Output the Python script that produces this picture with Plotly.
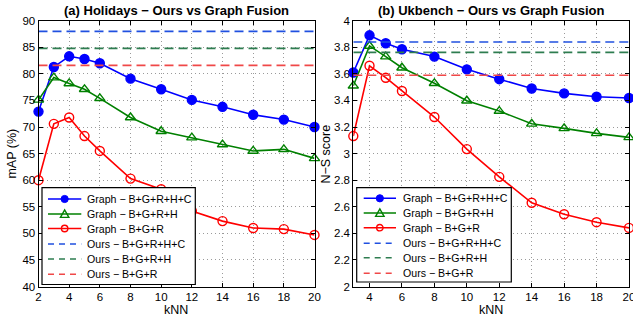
import plotly.graph_objects as go

# ---------------- data ----------------
knn_a = [2, 3, 4, 5, 6, 8, 10, 12, 14, 16, 18, 20]
graph_bgrhc_a = [72.9, 81.3, 83.3, 82.8, 82.0, 79.1, 77.1, 75.1, 73.8, 72.3, 71.4, 70.0]
graph_bgrh_a = [75.1, 79.3, 78.2, 77.1, 75.4, 71.8, 69.2, 68.0, 66.7, 65.5, 65.8, 64.1]
graph_bgr_a = [60.0, 70.6, 71.8, 68.3, 65.5, 60.3, 58.3, 54.2, 52.3, 51.0, 50.8, 49.7]
ours_a = [88.0, 84.8, 81.6]

knn_b = [3, 4, 5, 6, 8, 10, 12, 14, 16, 18, 20]
graph_bgrhc_b = [3.61, 3.89, 3.83, 3.785, 3.73, 3.634, 3.56, 3.49, 3.453, 3.428, 3.418]
graph_bgrh_b = [3.51, 3.81, 3.73, 3.646, 3.529, 3.398, 3.32, 3.224, 3.19, 3.152, 3.122]
graph_bgr_b = [3.132, 3.661, 3.571, 3.471, 3.275, 3.034, 2.825, 2.63, 2.544, 2.484, 2.441]
ours_b = [3.84, 3.762, 3.589]

yticks_a = [40, 45, 50, 55, 60, 65, 70, 75, 80, 85, 90]
yticks_b = [2, 2.2, 2.4, 2.6, 2.8, 3, 3.2, 3.4, 3.6, 3.8, 4]
yticklabels_b = ["2", "2.2", "2.4", "2.6", "2.8", "3", "3.2", "3.4", "3.6", "3.8", "4"]
xticks_a = [2, 4, 6, 8, 10, 12, 14, 16, 18, 20]
xticks_b = [4, 6, 8, 10, 12, 14, 16, 18, 20]

names_graph = ["Graph − B+G+R+H+C", "Graph − B+G+R+H", "Graph − B+G+R"]
names_ours = ["Ours − B+G+R+H+C", "Ours − B+G+R+H", "Ours − B+G+R"]
titles = ["<b>(a) Holidays − Ours vs Graph Fusion</b>", "<b>(b) Ukbench − Ours vs Graph Fusion</b>"]
ylabels = ["mAP (%)", "N−S score"]

line_colors = ["#0000ff", "#008000", "#ff0000"]
dash_colors = ["#2050e0", "#2e7d50", "#f04848"]
symbols = ["circle", "triangle-up-open", "circle-open"]

W, H = 633, 317


def px(x):
    return x / W


def py(y):
    return 1 - y / H


fig = go.Figure()


def add_panel(knn, series, ours, xa, ya):
    for vals, nm, col, sym in zip(series, names_graph, line_colors, symbols):
        fig.add_trace(go.Scatter(
            x=knn, y=vals, name=nm, mode="lines+markers", showlegend=False,
            line=dict(color=col, width=1.6),
            marker=dict(symbol=sym, size=9, color=col, line=dict(color=col, width=1.4)),
            xaxis=xa, yaxis=ya, cliponaxis=False))
    for v, nm, col in zip(ours, names_ours, dash_colors):
        fig.add_trace(go.Scatter(
            x=[knn[0], knn[-1]], y=[v, v], name=nm, mode="lines", showlegend=False,
            line=dict(color=col, width=1.6, dash="9px,5px"),
            xaxis=xa, yaxis=ya))


add_panel(knn_a, [graph_bgrhc_a, graph_bgrh_a, graph_bgr_a], ours_a, "x", "y")
add_panel(knn_b, [graph_bgrhc_b, graph_bgrh_b, graph_bgr_b], ours_b, "x2", "y2")

font = dict(family="Liberation Sans, Arial, sans-serif", size=11, color="black")

axis_common = dict(showline=True, linecolor="black", linewidth=1, mirror="ticks",
                   ticks="inside", ticklen=4, tickcolor="black", automargin=False,
                   showgrid=True, gridcolor="#9a9a9a", griddash="1px,3px", gridwidth=1,
                   zeroline=False, tickfont=dict(size=11.5), ticklabeloverflow="allow")

ytop = py(20.7)
ybot = py(286.5)
plot_a = (38.5, 314.5)
plot_b = (353.3, 629.0)

# ---------------- manual legends (box, samples, text) ----------------
shapes = []
annotations = []


def add_legend(box, rows, sx0, sx1, tx):
    x0, y0, x1, y1 = box
    shapes.append(dict(type="rect", xref="paper", yref="paper",
                       x0=px(x0), x1=px(x1), y0=py(y0), y1=py(y1),
                       line=dict(color="black", width=1.2), fillcolor="white", layer="above"))
    labels = names_graph + names_ours
    cols = line_colors + dash_colors
    for i, (yy, lab, col) in enumerate(zip(rows, labels, cols)):
        dash = "solid" if i < 3 else "6px,5px"
        shapes.append(dict(type="line", xref="paper", yref="paper",
                           x0=px(sx0), x1=px(sx1), y0=py(yy), y1=py(yy),
                           line=dict(color=col, width=1.6, dash=dash), layer="above"))
        mx = (sx0 + sx1) / 2
        r = 3.6
        if i == 0:
            shapes.append(dict(type="circle", xref="paper", yref="paper",
                               x0=px(mx - r), x1=px(mx + r), y0=py(yy + r), y1=py(yy - r),
                               line=dict(color=col, width=1), fillcolor=col, layer="above"))
        elif i == 1:
            t = 4.2
            path = "M {} {} L {} {} L {} {} Z".format(
                px(mx - t), py(yy + t * 0.8), px(mx + t), py(yy + t * 0.8), px(mx), py(yy - t * 0.95))
            shapes.append(dict(type="path", xref="paper", yref="paper", path=path,
                               line=dict(color=col, width=1.4), fillcolor="rgba(0,0,0,0)", layer="above"))
        elif i == 2:
            shapes.append(dict(type="circle", xref="paper", yref="paper",
                               x0=px(mx - 3.2), x1=px(mx + 3.2), y0=py(yy + 3.2), y1=py(yy - 3.2),
                               line=dict(color=col, width=1.4), fillcolor="rgba(0,0,0,0)", layer="above"))
        annotations.append(dict(text=lab, x=px(tx), y=py(yy), xref="paper", yref="paper",
                                showarrow=False, xanchor="left", yanchor="middle",
                                font=dict(size=10.6), bgcolor="rgba(0,0,0,0)"))


add_legend((42, 187.7, 195.3, 284.5), [199, 214, 228.5, 244, 259, 274.3], 48, 81.3, 85.3)
add_legend((356.7, 187.7, 511.3, 282), [198.3, 213, 227.7, 243.3, 257.7, 273.3], 363.7, 396, 400.5)

# titles and axis labels
for (a, b), t in zip([plot_a, plot_b], titles):
    annotations.append(dict(text=t, x=px((a + b) / 2), y=py(10), xref="paper", yref="paper",
                            showarrow=False, font=dict(size=13), xanchor="center", yanchor="middle"))
    annotations.append(dict(text="kNN", x=px((a + b) / 2), y=py(310), xref="paper", yref="paper",
                            showarrow=False, font=dict(size=12.5), xanchor="center", yanchor="middle"))
for xpos, lab in zip([12, 326], ylabels):
    annotations.append(dict(text=lab, x=px(xpos), y=py(153.6), xref="paper", yref="paper",
                            showarrow=False, font=dict(size=12.5), textangle=-90,
                            xanchor="center", yanchor="middle"))

fig.update_layout(
    width=W, height=H, margin=dict(l=0, r=0, t=0, b=0, autoexpand=False),
    paper_bgcolor="white", plot_bgcolor="white", font=font, showlegend=False,
    xaxis=dict(domain=[px(plot_a[0]), px(plot_a[1])], range=[knn_a[0], knn_a[-1]], tickvals=xticks_a,
               anchor="y", **axis_common),
    yaxis=dict(domain=[ybot, ytop], range=[yticks_a[0], yticks_a[-1]], tickvals=yticks_a,
               anchor="x", **axis_common),
    xaxis2=dict(domain=[px(plot_b[0]), px(plot_b[1])], range=[knn_b[0], knn_b[-1]], tickvals=xticks_b,
                anchor="y2", **axis_common),
    yaxis2=dict(domain=[ybot, ytop], range=[yticks_b[0], yticks_b[-1]], tickvals=yticks_b,
                ticktext=yticklabels_b, anchor="x2", **axis_common),
    shapes=shapes,
    annotations=annotations,
)

fig.write_html("out.html", config={"displayModeBar": False},
               post_script="document.body.style.margin='0';document.body.style.overflow='hidden';")
